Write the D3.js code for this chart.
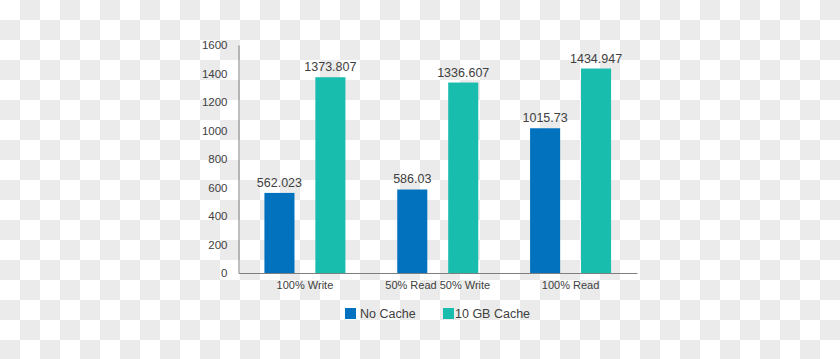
<!DOCTYPE html>
<html><head><meta charset="utf-8">
<script src="https://cdn.jsdelivr.net/npm/d3@7"></script>
<style>html,body{margin:0;padding:0;background:#fff;}svg{display:block;}</style>
</head><body>
<svg id="chart" width="840" height="359"></svg>
<script>
const categories = ["100% Write", "50% Read 50% Write", "100% Read"];
const seriesNames = ["No Cache", "10 GB Cache"];
const noCache = [562.023, 586.03, 1015.73];
const cache10 = [1373.807, 1336.607, 1434.947];
const yTicks = [0, 200, 400, 600, 800, 1000, 1200, 1400, 1600];
const colors = ["#0272bf", "#18bdae"];

(function () {
const svg = d3.select("#chart");
const W = 840, H = 359;

// checkerboard background (transparency pattern)
const defs = svg.append("defs");
const pat = defs.append("pattern").attr("id","chk").attr("width",40).attr("height",40).attr("patternUnits","userSpaceOnUse");
pat.append("rect").attr("width",40).attr("height",40).attr("fill","#ffffff");
pat.append("rect").attr("x",20).attr("y",0).attr("width",20).attr("height",20).attr("fill","#ebebeb");
pat.append("rect").attr("x",0).attr("y",20).attr("width",20).attr("height",20).attr("fill","#ebebeb");
svg.append("rect").attr("width",W).attr("height",H).attr("fill","url(#chk)");

const mLeft = 238.5, mRight = 637, mTop = 45, mBottom = 273;
const x0 = d3.scaleBand().domain(categories).range([mLeft, mRight]).paddingInner(0).paddingOuter(0);
const x1 = d3.scaleBand().domain(seriesNames).range([x0.bandwidth()/2 - 40.5, x0.bandwidth()/2 + 40.5]).paddingInner(0.41).paddingOuter(0);
const y = d3.scaleLinear().domain([0, 1600]).range([mBottom, mTop]);

const font = "'Liberation Sans', Arial, sans-serif";
const txt = "#404040";

// y axis
const yAxis = svg.append("g").attr("transform", `translate(${mLeft},0)`)
  .call(d3.axisLeft(y).tickValues(yTicks).tickSize(0).tickPadding(11).tickFormat(d3.format("d")));
yAxis.select(".domain").attr("stroke", "#7f7f7f").attr("stroke-width", 1);
yAxis.selectAll("text").attr("fill", txt).style("font-family", font).style("font-size", "11.5px");

// x axis
const xAxis = svg.append("g").attr("transform", `translate(0,${mBottom})`)
  .call(d3.axisBottom(x0).tickSize(0).tickPadding(8));
xAxis.select(".domain").attr("stroke", "#7f7f7f").attr("stroke-width", 1);
xAxis.selectAll("text").attr("fill", txt).style("font-family", font).style("font-size", "11px");

const data = categories.map((c, i) => ({cat: c, vals: [
  {s: seriesNames[0], v: noCache[i], c: colors[0]},
  {s: seriesNames[1], v: cache10[i], c: colors[1]}
]}));

const g = svg.selectAll(".grp").data(data).enter().append("g")
  .attr("transform", d => `translate(${x0(d.cat)},0)`);
g.selectAll("rect").data(d => d.vals).enter().append("rect")
  .attr("x", d => x1(d.s)).attr("width", x1.bandwidth())
  .attr("y", d => y(d.v)).attr("height", d => mBottom - y(d.v))
  .attr("fill", d => d.c);
g.selectAll("text.val").data(d => d.vals).enter().append("text")
  .attr("class", "val")
  .attr("x", d => x1(d.s) + x1.bandwidth()/2)
  .attr("y", d => y(d.v) - 6)
  .attr("text-anchor", "middle")
  .attr("fill", txt).style("font-family", font).style("font-size", "12.5px")
  .text(d => String(d.v));

// legend
const legend = svg.append("g").attr("transform", "translate(345,308)");
const lx = [0, 98];
seriesNames.forEach((s, i) => {
  const lg = legend.append("g").attr("transform", `translate(${lx[i]},0)`);
  lg.append("rect").attr("width", 11).attr("height", 11).attr("fill", colors[i]);
  lg.append("text").attr("x", i === 0 ? 15 : 12).attr("y", 10).attr("fill", txt)
    .style("font-family", font).style("font-size", "12.5px").text(s);
});
})();
</script>
</body></html>
